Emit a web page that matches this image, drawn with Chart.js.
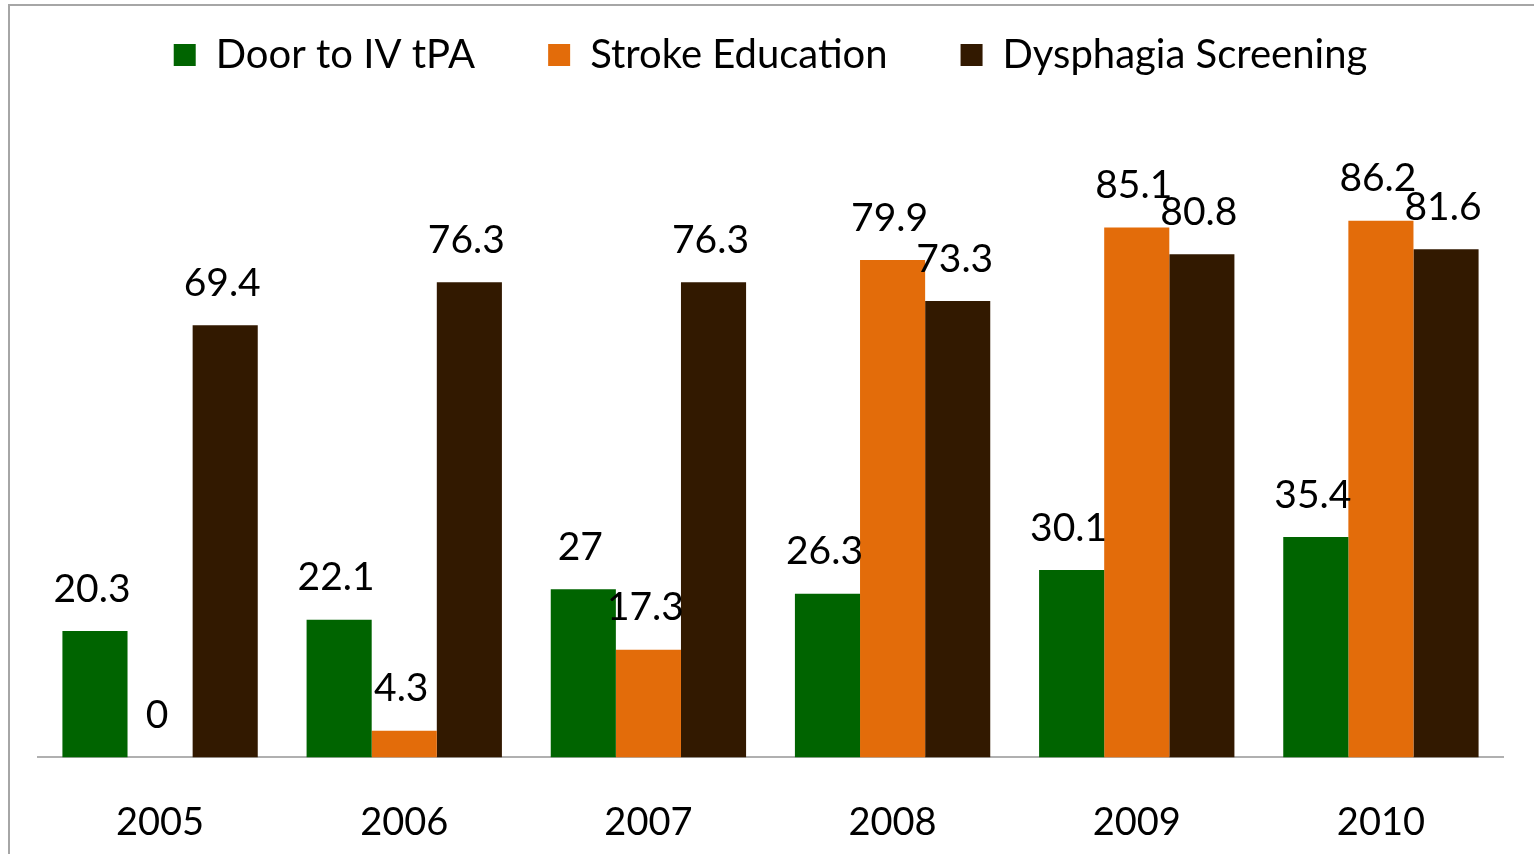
<!DOCTYPE html>
<html>
<head>
<meta charset="utf-8">
<script src="https://cdn.jsdelivr.net/npm/chart.js@4.4.0/dist/chart.umd.min.js"></script>
<style>
    html, body { margin: 0; padding: 0; background: #fff; overflow: hidden; }
    #wrap { position: relative; width: 1534px; height: 854px; overflow: hidden; }
</style>
</head>
<body>
<div id="wrap"><canvas id="chart" width="1534" height="889"></canvas></div>
<script>
const years = ['2005', '2006', '2007', '2008', '2009', '2010'];
const doorToTpa = [20.3, 22.1, 27, 26.3, 30.1, 35.4];
const strokeEducation = [0, 4.3, 17.3, 79.9, 85.1, 86.2];
const dysphagiaScreening = [69.4, 76.3, 76.3, 73.3, 80.8, 81.6];

// value labels above each bar (no datalabels plugin available offline)
const barLabels = {
    id: 'barLabels',
    afterDatasetsDraw: function (chart) {
        const ctx = chart.ctx;
        ctx.save();
        ctx.font = '39px Lato';
        ctx.fillStyle = '#000';
        ctx.textAlign = 'center';
        ctx.textBaseline = 'middle';
        chart.data.datasets.forEach(function (ds, i) {
            chart.getDatasetMeta(i).data.forEach(function (bar, j) {
                ctx.fillText(String(ds.data[j]), bar.x - 3, bar.y - 42);
            });
        });
        ctx.restore();
    }
};

// thin grey frame, only top and left edges show in the picture
const frame = {
    id: 'frame',
    beforeDraw: function (chart) {
        const ctx = chart.ctx;
        ctx.save();
        ctx.strokeStyle = '#a6a6a6';
        ctx.lineWidth = 2;
        ctx.strokeRect(9, 5, 1600, 1000);
        ctx.restore();
    }
};

new Chart(document.getElementById('chart'), {
    type: 'bar',
    data: {
        labels: years,
        datasets: [
            { label: 'Door to IV tPA', data: doorToTpa, backgroundColor: '#006400' },
            { label: 'Stroke Education', data: strokeEducation, backgroundColor: '#e36c0a' },
            { label: 'Dysphagia Screening', data: dysphagiaScreening, backgroundColor: '#321900' }
        ]
    },
    options: {
        responsive: false,
        animation: false,
        datasets: {
            bar: { categoryPercentage: 0.8, barPercentage: 1.0 }
        },
        layout: {
            padding: { left: 38, right: 31, top: -38, bottom: 0 }
        },
        plugins: {
            tooltip: { enabled: false },
            legend: {
                position: 'top',
                labels: {
                    color: '#000',
                    font: { family: 'Lato', size: 40 },
                    boxWidth: 22,
                    boxHeight: 22,
                    padding: 73
                }
            }
        },
        scales: {
            x: {
                grid: { display: false, drawTicks: false },
                border: { display: true, color: '#b0b0b0', width: 2 },
                ticks: {
                    color: '#000',
                    font: { family: 'Lato', size: 38 },
                    padding: 43
                }
            },
            y: {
                display: false,
                min: 0,
                max: 108
            }
        }
    },
    plugins: [barLabels, frame]
});
</script>
</body>
</html>
